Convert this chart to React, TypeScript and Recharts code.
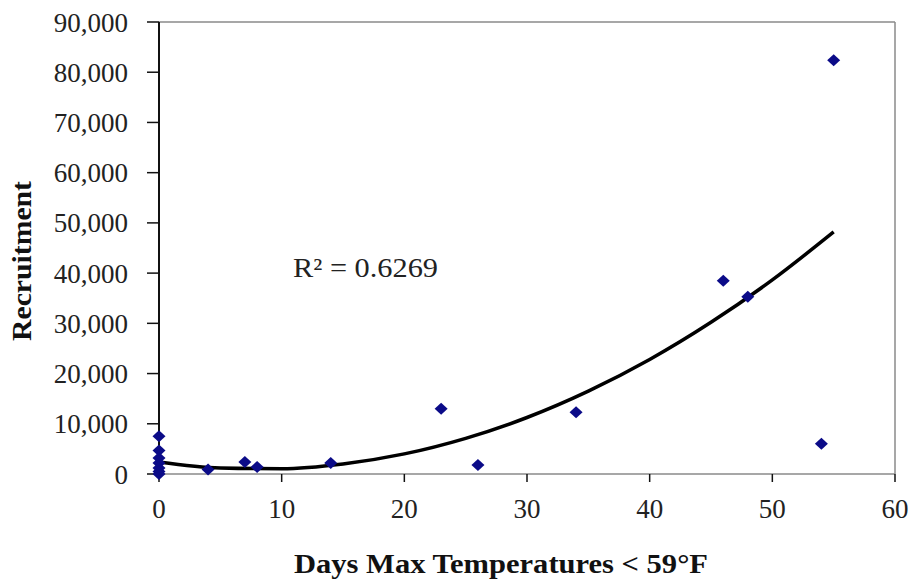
import React from "react";
import {
  ComposedChart,
  Scatter,
  Line,
  XAxis,
  YAxis,
  ReferenceLine,
} from "recharts";

// observed points (days with max temp < 59°F vs. recruitment)
const days = [0, 0, 0, 0, 0, 0, 0, 4, 7, 8, 14, 23, 26, 34, 46, 48, 54, 55];
const recruitment = [
  7500, 4700, 3200, 2200, 1200, 500, 0, 900, 2400, 1400, 2200, 13000, 1800,
  12300, 38500, 35300, 6000, 82400,
];

// polynomial trend line
const trendDays = [0, 5, 10, 15, 20, 25, 30, 35, 40, 45, 50, 55];
const trendValues = [
  2400, 1200, 1050, 2000, 4000, 7100, 11250, 16500, 22800, 30200, 38650, 48200,
];

const xTicks = [0, 10, 20, 30, 40, 50, 60];
const yTicks = [0, 10000, 20000, 30000, 40000, 50000, 60000, 70000, 80000, 90000];

const FONT = "'Liberation Serif', 'Times New Roman', serif";
const NAVY = "#0b0b88";

const points = days.map((d, i) => ({ x: d, y: recruitment[i] }));
const trend = trendDays.map((d, i) => ({ x: d, y: trendValues[i] }));

const Diamond = (props: any) => {
  const { cx, cy } = props;
  if (cx == null || cy == null) return null;
  return (
    <polygon
      points={`${cx},${cy - 6} ${cx + 6.5},${cy} ${cx},${cy + 6} ${cx - 6.5},${cy}`}
      fill={NAVY}
    />
  );
};

export default function App() {
  return (
    <div style={{ position: "absolute", left: 0, top: 0, width: 912, height: 580, background: "#fff" }}>
      <ComposedChart
        width={912}
        height={580}
        margin={{ top: 22, right: 17, bottom: 0, left: 0 }}
      >
        <XAxis
          type="number"
          dataKey="x"
          domain={[0, 60]}
          ticks={xTicks}
          height={106}
          tickSize={8}
          tickMargin={17}
          axisLine={{ stroke: "#8a8a8a", strokeWidth: 1.5 }}
          tickLine={{ stroke: "#111", strokeWidth: 1.5 }}
          tick={{ fill: "#222", fontSize: 27, fontFamily: FONT }}
          label={{
            content: () => (
              <text
                x={501}
                y={573}
                textAnchor="middle"
                textLength={414}
                lengthAdjust="spacingAndGlyphs"
                fontFamily={FONT}
                fontWeight="bold"
                fontSize={27}
                fill="#111"
              >
                Days Max Temperatures &lt; 59°F
              </text>
            ),
          }}
        />
        <YAxis
          type="number"
          domain={[0, 90000]}
          ticks={yTicks}
          width={159}
          tickSize={12}
          tickMargin={19}
          tickFormatter={(v: number) => v.toLocaleString("en-US")}
          axisLine={{ stroke: "#111", strokeWidth: 2 }}
          tickLine={{ stroke: "#111", strokeWidth: 1.5 }}
          tick={{ fill: "#222", fontSize: 27, fontFamily: FONT }}
          label={{
            content: () => (
              <text
                x={31}
                y={261}
                transform="rotate(-90 31 261)"
                textAnchor="middle"
                textLength={160}
                lengthAdjust="spacingAndGlyphs"
                fontFamily={FONT}
                fontWeight="bold"
                fontSize={27}
                fill="#111"
              >
                Recruitment
              </text>
            ),
          }}
        />
        <ReferenceLine y={90000} stroke="#8a8a8a" strokeWidth={1.5} ifOverflow="extendDomain" />
        <ReferenceLine x={60} stroke="#8a8a8a" strokeWidth={1.5} />
        <Line
          data={trend}
          dataKey="y"
          type="monotone"
          stroke="#000"
          strokeWidth={3.5}
          dot={false}
          activeDot={false}
          isAnimationActive={false}
        />
        <Scatter
          data={points}
          dataKey="y"
          shape={Diamond}
          isAnimationActive={false}
        />
      </ComposedChart>
      <svg
        width={912}
        height={580}
        style={{ position: "absolute", left: 0, top: 0, pointerEvents: "none" }}
      >
        <text
          x={293}
          y={277}
          textLength={145}
          lengthAdjust="spacingAndGlyphs"
          fontFamily={FONT}
          fontSize={27}
          fill="#222"
        >
          R² = 0.6269
        </text>
      </svg>
    </div>
  );
}
